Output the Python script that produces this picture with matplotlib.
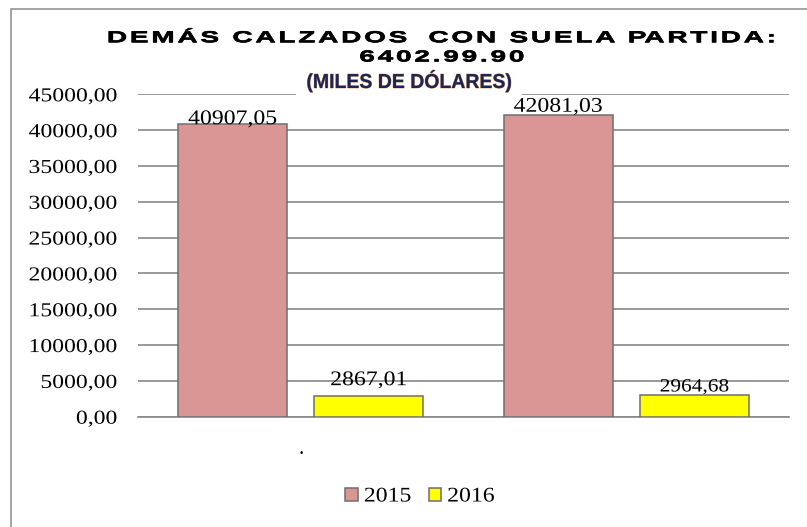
import numpy as np
import matplotlib
matplotlib.use('Agg')
import matplotlib.pyplot as plt
from matplotlib.patches import Rectangle
from matplotlib.patheffects import AbstractPathEffect
from matplotlib.path import Path
from matplotlib.transforms import Affine2D

# datos (miles de dólares)
categorias = ['.', '']
anios = ['2015', '2016']
valores_2015 = [40907.05, 42081.03]
valores_2016 = [2867.01, 2964.68]
yticks = np.arange(0, 45001, 5000)

colores = ['#D99694', '#FFFF00']
borde = '#6e6e6e'
gris = '#888888'


class Stretch(AbstractPathEffect):
    """estira el texto a lo ancho, con espaciado extra entre letras (px)"""

    def __init__(self, sx=1.0, track=0.0, align='center', stroke=None):
        super().__init__()
        self.sx, self.track, self.align, self.stroke = sx, track, align, stroke

    def draw_path(self, renderer, gc, tpath, affine, rgbFace=None):
        verts = tpath.vertices.copy()
        codes = tpath.codes
        if len(verts) == 0:
            return
        if codes is None:
            ink = np.ones(len(verts), bool)
        else:
            ink = codes != Path.CLOSEPOLY
        x0, x1 = verts[ink, 0].min(), verts[ink, 0].max()
        if self.track and codes is not None:
            a = affine.get_matrix()[0, 0]
            trk = self.track / a
            starts = np.flatnonzero(codes == Path.MOVETO)
            ends = np.append(starts[1:], len(codes))
            partes = sorted((verts[s:e][ink[s:e], 0].min(), verts[s:e][ink[s:e], 0].max(), s, e)
                            for s, e in zip(starts, ends))
            k, right = -1, -np.inf
            for p0, p1, s, e in partes:
                if p0 >= right:
                    if k >= 0 and (p0 - right) * a > 3:
                        k += 1  # espacio entre palabras
                    k += 1
                    right = p1
                else:
                    right = max(right, p1)
                verts[s:e, 0] += k * trk
        n0, n1 = verts[ink, 0].min(), verts[ink, 0].max()
        ref_old = {'left': x0, 'right': x1}.get(self.align, (x0 + x1) / 2)
        ref_new = {'left': n0, 'right': n1}.get(self.align, (n0 + n1) / 2)
        t = Affine2D().translate(-ref_new, 0).scale(self.sx, 1).translate(ref_old, 0) + affine
        path = Path(verts, codes)
        if self.stroke:
            gc0 = renderer.new_gc()
            gc0.copy_properties(gc)
            gc0.set_foreground(self.stroke[0])
            gc0.set_linewidth(self.stroke[1])
            renderer.draw_path(gc0, path, t, rgbFace)
            gc0.restore()
        renderer.draw_path(gc, path, t, rgbFace)


plt.rcParams['font.family'] = ['Liberation Serif', 'DejaVu Serif']

W, H = 807, 527
fig = plt.figure(figsize=(W / 100, H / 100), dpi=100)
ax = fig.add_axes([138 / W, 1 - 416.7 / H, 651 / W, 322.4 / H])

# marco del gráfico (sólo se ven los lados izquierdo y superior)
fig.patches.append(Rectangle((11 / W, -0.2), 1.5, 1 - 9 / H + 0.2, transform=fig.transFigure,
                             fill=False, edgecolor='#8c8c8c', linewidth=1.1))

x = np.arange(len(categorias))
ancho = 0.335
desp = 0.209
b1 = ax.bar(x - desp, valores_2015, ancho, color=colores[0], edgecolor=borde, linewidth=1.1,
            label=anios[0], zorder=3)
b2 = ax.bar(x + desp, valores_2016, ancho, color=colores[1], edgecolor=borde, linewidth=1.1,
            label=anios[1], zorder=3)

ax.set_xlim(-0.5, len(categorias) - 0.5)
ax.set_ylim(0, 45000)
ax.set_yticks(yticks)
ax.set_yticklabels([f'{v:.2f}'.replace('.', ',') for v in yticks])
ax.set_xticks(x)
ax.set_xticklabels(categorias)
ax.tick_params(axis='y', length=0, pad=15, labelsize=14.2)
ax.tick_params(axis='x', length=0, pad=17, labelsize=15)
for lab in ax.get_yticklabels():
    lab.set_path_effects([Stretch(1.2, align='right')])

ax.grid(axis='y', color=gris, linewidth=1.2, zorder=0)
ax.set_axisbelow(True)
for s in ['top', 'right', 'left']:
    ax.spines[s].set_visible(False)
ax.spines['bottom'].set_color(gris)
ax.spines['bottom'].set_linewidth(1.2)

# etiquetas de valores
barras = [b1[0], b2[0], b1[1], b2[1]]
vals = [valores_2015[0], valores_2016[0], valores_2015[1], valores_2016[1]]
dy = [-0.5, 11, 3.5, 4]
fs = [15, 15, 15, 13.5]
for rect, v, d, f in zip(barras, vals, dy, fs):
    ax.annotate(f'{v:.2f}'.replace('.', ','), (rect.get_x() + rect.get_width() / 2, v),
                xytext=(0, d), textcoords='offset pixels', ha='center', va='baseline',
                fontsize=f, zorder=5, path_effects=[Stretch(1.14)])

# títulos
fig.text(442 / W, 1 - 61.5 / H, 'DEMÁS CALZADOS  CON SUELA PARTIDA:\n6402.99.90',
         ha='center', va='baseline', family='Liberation Sans', weight='bold', fontsize=11.5,
         linespacing=1.35, path_effects=[Stretch(1.75, track=1.6, stroke=('black', 0.45))])
fig.text(409 / W, 1 - 88 / H, '(MILES DE DÓLARES)', ha='center', va='baseline',
         family='Liberation Sans', weight='bold', fontsize=14.6, color='#1c2458',
         bbox=dict(facecolor='white', edgecolor='none', boxstyle='square,pad=0.3'),
         path_effects=[Stretch(0.96, stroke=('#e0a060', 0.6))])

leg = ax.legend(loc='center', bbox_to_anchor=(417 / W, 1 - 497 / H), bbox_transform=fig.transFigure,
                ncol=2, frameon=False, fontsize=15, handlelength=0.6, handleheight=0.6,
                handletextpad=0.3, columnspacing=1.1)
for t in leg.get_texts():
    t.set_path_effects([Stretch(1.14, align='left')])

fig.savefig('out.png', dpi=100)
